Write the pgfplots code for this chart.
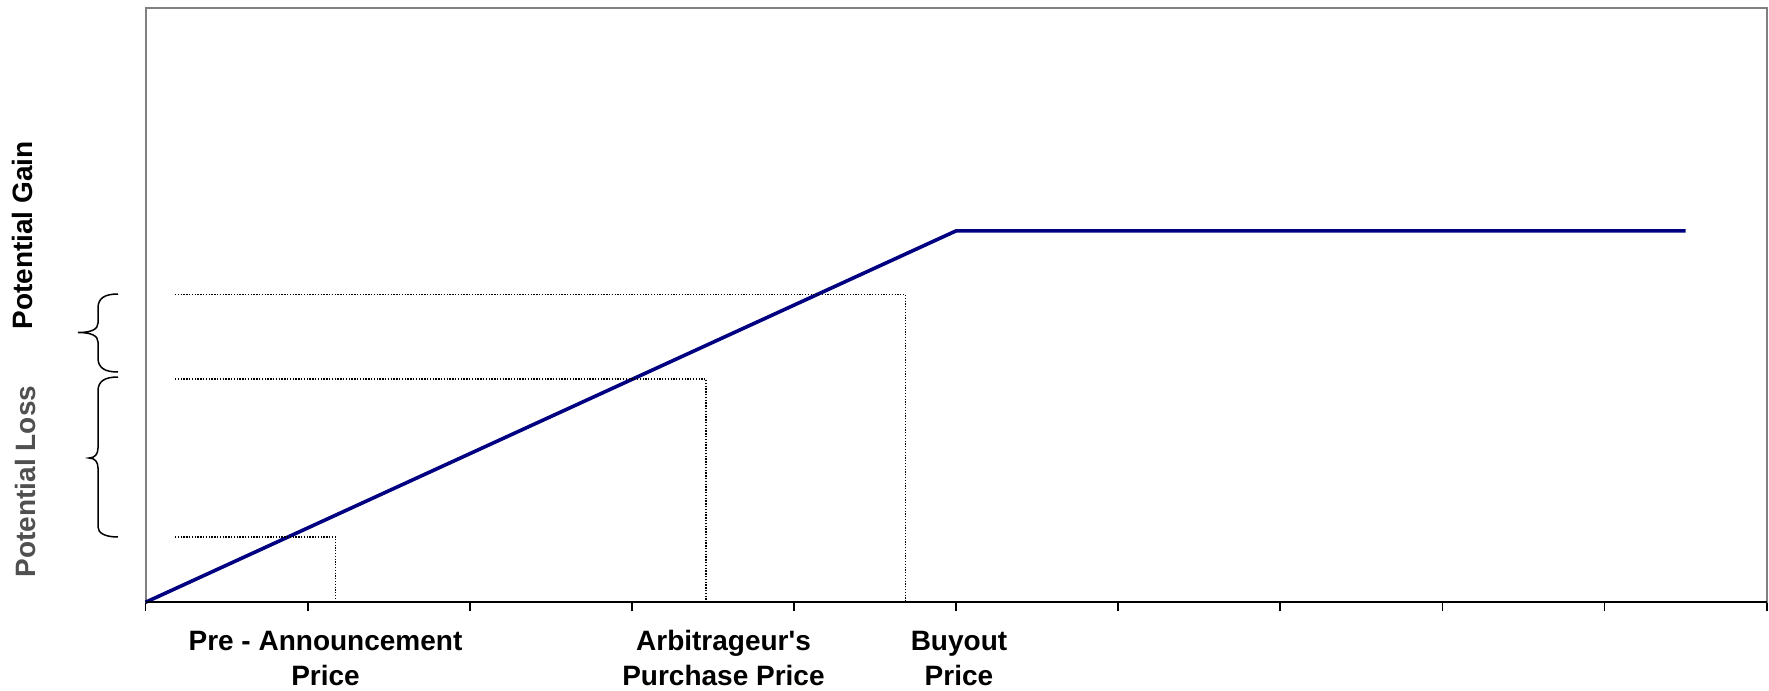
\documentclass[border=0pt]{standalone}
\usepackage{pgfplots}
\pgfplotsset{compat=1.18}
\usepackage{fontspec}
\setmainfont{Liberation Sans}
\definecolor{navyline}{RGB}{0,0,128}
\definecolor{framegray}{RGB}{128,128,128}
\definecolor{lossgray}{RGB}{80,80,80}
\begin{document}
\begin{tikzpicture}
\useasboundingbox (-72.75bp,-44.35bp) rectangle (811.75bp,301.15bp);
\begin{axis}[
  at={(0,0)}, anchor=south west,
  scale only axis,
  width=810.6bp, height=297.15bp,
  xmin=0, xmax=10, ymin=0, ymax=100,
  xtick={0,1,2,3,4,5,6,7,8,9,10},
  xticklabels={},
  ytick=\empty,
  xtick pos=bottom,
  tick align=outside,
  major tick length=4.5bp,
  tick style={black, line width=0.9bp},
  axis line style={framegray, line width=1bp},
  clip=false,
]
% arbitrage payoff line
\addplot[navyline, line width=1.8bp] coordinates {(0,0) (5,62.5) (9.5,62.5)};
% dotted guide lines
\addplot[black, line width=0.65bp, dash pattern=on 0.65bp off 0.75bp] coordinates {(0.182,11.0) (1.171,11.0) (1.171,0)};
\addplot[black, line width=0.65bp, dash pattern=on 0.65bp off 0.75bp] coordinates {(0.182,37.57) (3.457,37.57) (3.457,0)};
\addplot[black, line width=0.65bp, dash pattern=on 0.65bp off 0.75bp] coordinates {(0.182,51.76) (4.688,51.76) (4.688,0)};
\draw[black, line width=1bp] (rel axis cs:0,0) -- (rel axis cs:1,0);
\end{axis}
\begin{scope}[x=0.5bp, y=-0.5bp, shift={(-145.5,-602.3)}]
  % braces
  \draw[black, line width=0.75bp]
    (118,294) .. controls (105,294) and (98,298) .. (98,308) -- (98,323)
    .. controls (98,329) and (92,332.5) .. (78,332.5)
    .. controls (92,332.5) and (98,336) .. (98,342) -- (98,358)
    .. controls (98,368) and (105,372) .. (118,372);
  \draw[black, line width=0.75bp]
    (118,377) .. controls (105,377) and (98,381) .. (98,391) -- (98,448)
    .. controls (98,454) and (95,458) .. (89,458)
    .. controls (95,458) and (98,462) .. (98,468) -- (98,527)
    .. controls (98,533) and (105,537) .. (118,537);
  % side labels
  \node[rotate=90, anchor=base, inner sep=0pt, font=\bfseries\fontsize{14bp}{18bp}\selectfont] at (32.5,235.5) {Potential Gain};
  \node[rotate=90, anchor=base, inner sep=0pt, text=lossgray, font=\bfseries\fontsize{14bp}{18bp}\selectfont] at (35,481.5) {Potential Loss};
  % category labels
  \begin{scope}[every node/.style={anchor=base, inner sep=0pt, font=\bfseries\fontsize{14bp}{18bp}\selectfont}]
    \node at (325.5,650) {Pre - Announcement};
    \node at (325.5,686) {Price};
    \node at (723.5,650) {Arbitrageur\textquotesingle s};
    \node at (723.5,686) {Purchase Price};
    \node at (959,650) {Buyout};
    \node at (959,686) {Price};
  \end{scope}
\end{scope}
\end{tikzpicture}
\end{document}
